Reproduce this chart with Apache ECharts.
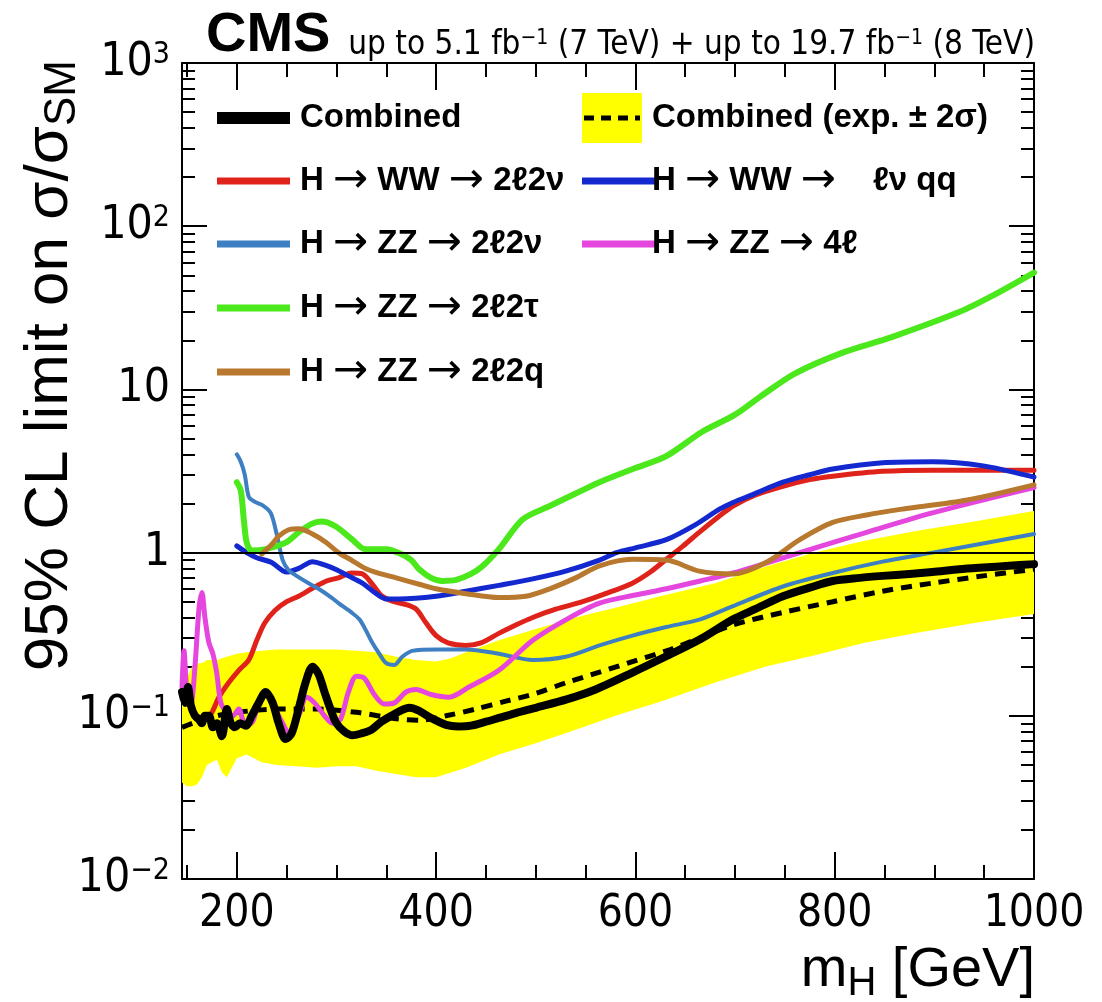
<!DOCTYPE html>
<html>
<head>
<meta charset="utf-8">
<script src="https://cdn.jsdelivr.net/npm/echarts@6/dist/echarts.min.js"></script>
<style>
html, body { margin: 0; padding: 0; background: #fff; }
#chart { width: 1102px; height: 1002px; }
</style>
</head>
<body>
<div id="chart"></div>
<script>
// Combined observed limit
const massObs = [145,148,151,154,158,162,165,168,172,176,180,185,190,194,198,203,209,215,222,229,236,242,249,255,262,269,276,282,288,294,300,308,316,325,335,345,355,365,373,382,395,410,422,435,450,463,480,500,531,560,597,630,665,698,720,748,775,798,825,848,875,898,925,949,975,1000];
const limitObs = [0.14,0.12,0.15,0.115,0.1,0.095,0.09,0.1,0.1,0.085,0.09,0.075,0.11,0.09,0.085,0.09,0.087,0.1,0.12,0.14,0.12,0.09,0.072,0.078,0.11,0.16,0.2,0.18,0.14,0.11,0.09,0.08,0.076,0.078,0.082,0.092,0.1,0.108,0.112,0.108,0.097,0.088,0.086,0.087,0.092,0.097,0.104,0.112,0.126,0.145,0.184,0.23,0.294,0.39,0.45,0.54,0.61,0.67,0.7,0.72,0.74,0.76,0.79,0.81,0.83,0.85];

// Combined expected limit (median)
const massExp = [145,160,180,200,240,280,320,360,385,410,440,470,500,531,564,597,631,665,698,748,798,848,898,949,1000];
const limitExp = [0.085,0.092,0.1,0.105,0.11,0.11,0.105,0.096,0.094,0.1,0.11,0.123,0.137,0.16,0.185,0.215,0.25,0.3,0.36,0.43,0.5,0.58,0.65,0.72,0.79];

// Expected +-2 sigma band
const massBand = [145,150,155,160,165,170,175,180,185,190,195,200,210,225,240,260,280,300,320,340,360,380,400,415,430,463,500,540,580,630,680,730,780,830,880,940,1000];
const bandHigh = [0.16,0.17,0.2,0.21,0.21,0.22,0.22,0.22,0.225,0.23,0.235,0.24,0.245,0.25,0.255,0.255,0.255,0.255,0.25,0.245,0.23,0.22,0.215,0.225,0.245,0.29,0.34,0.4,0.46,0.55,0.65,0.82,1.0,1.18,1.35,1.55,1.8];
const bandLow = [0.039,0.037,0.037,0.038,0.042,0.05,0.052,0.054,0.045,0.042,0.048,0.055,0.058,0.052,0.05,0.049,0.048,0.049,0.049,0.046,0.044,0.042,0.042,0.045,0.048,0.058,0.068,0.082,0.1,0.125,0.16,0.2,0.235,0.28,0.32,0.37,0.42];

// H -> WW -> 2l2nu
const massWW2l2v = [168,175,182,192,202,212,220,228,238,250,262,275,290,302,315,326,336,346,358,370,380,390,400,412,430,445,463,480,497,520,547,570,597,615,631,648,664,684,698,720,748,775,798,848,898,950,1000];
const limitWW2l2v = [0.095,0.105,0.13,0.16,0.19,0.22,0.29,0.37,0.44,0.5,0.54,0.6,0.67,0.7,0.75,0.74,0.64,0.54,0.5,0.48,0.45,0.37,0.31,0.28,0.27,0.28,0.32,0.36,0.4,0.45,0.5,0.56,0.65,0.76,0.91,1.1,1.33,1.67,1.93,2.25,2.55,2.8,2.94,3.15,3.2,3.2,3.2];

// H -> WW -> l nu qq
const massWWlvqq = [200,210,220,235,250,262,276,288,299,312,326,340,350,363,400,430,463,497,530,564,581,600,631,660,684,698,720,748,775,798,848,898,949,1000];
const limitWWlvqq = [1.1,1.0,0.93,0.87,0.76,0.8,0.88,0.84,0.79,0.72,0.65,0.56,0.52,0.52,0.54,0.58,0.63,0.69,0.77,0.9,1.0,1.07,1.2,1.48,1.84,2.03,2.3,2.7,3.0,3.25,3.55,3.6,3.4,2.9];

// H -> ZZ -> 2l2nu
const massZZ2l2v = [200,204,208,212,218,226,234,240,246,252,260,270,282,295,302,315,323,330,336,343,350,358,366,376,400,430,463,497,530,564,597,631,665,698,748,798,848,898,950,1000];
const limitZZ2l2v = [4.0,3.6,3.0,2.2,2.05,1.95,1.75,1.3,0.9,0.78,0.72,0.66,0.6,0.53,0.49,0.43,0.39,0.33,0.28,0.24,0.21,0.205,0.23,0.25,0.255,0.255,0.24,0.22,0.23,0.27,0.31,0.35,0.39,0.47,0.62,0.75,0.88,1.0,1.14,1.3];

// H -> ZZ -> 4l
const massZZ4l = [145,147,150,154,158,162,165,168,172,176,180,184,190,196,202,208,214,222,229,236,244,252,262,270,278,288,296,304,312,320,328,338,348,358,370,380,395,413,433,463,497,531,564,600,631,665,698,765,832,898,1000];
const limitZZ4l = [0.15,0.25,0.14,0.12,0.2,0.45,0.57,0.4,0.28,0.24,0.18,0.12,0.105,0.1,0.11,0.09,0.09,0.12,0.14,0.12,0.095,0.08,0.1,0.13,0.12,0.1,0.09,0.095,0.14,0.175,0.17,0.135,0.118,0.12,0.14,0.145,0.135,0.13,0.15,0.19,0.29,0.39,0.49,0.55,0.6,0.67,0.75,1.0,1.33,1.75,2.5];

// H -> ZZ -> 2l2tau
const massZZ2l2t = [200,204,207,210,215,229,249,262,275,285,299,316,329,350,365,375,383,395,406,420,435,447,463,487,514,540,564,600,631,667,700,725,760,808,858,926,960,1000];
const limitZZ2l2t = [2.7,2.4,1.6,1.15,1.03,1.05,1.15,1.33,1.5,1.55,1.45,1.2,1.05,1.05,0.98,0.9,0.79,0.7,0.67,0.68,0.74,0.83,1.05,1.6,1.93,2.3,2.7,3.3,3.9,5.5,7.0,9.0,12.5,16.8,21,30,38,52];

// H -> ZZ -> 2l2q
const massZZ2l2q = [225,235,242,252,262,276,290,302,315,329,345,360,383,400,430,463,490,514,540,564,597,631,664,698,731,765,798,832,866,933,1000];
const limitZZ2l2q = [0.98,1.12,1.26,1.38,1.4,1.3,1.15,1.0,0.9,0.8,0.74,0.7,0.64,0.6,0.56,0.53,0.54,0.6,0.7,0.83,0.91,0.9,0.77,0.74,0.87,1.2,1.53,1.7,1.84,2.1,2.6];

// Axis tick values
const xMajorTicks = [200, 400, 600, 800, 1000];
const xMinorTicks = [150, 250, 300, 350, 450, 500, 550, 650, 700, 750, 850, 900, 950];
const yMajorTicks = [0.01, 0.1, 1, 10, 100, 1000];
const yMinorTicks = [];
for (let d = -2; d <= 2; d++) {
  for (let k = 2; k <= 9; k++) yMinorTicks.push(Number((k * Math.pow(10, d)).toPrecision(3)));
}

const FONT = "'Liberation Sans', Arial, Helvetica, sans-serif";
const NARROW = "'Liberation Sans Narrow', 'Arial Narrow', 'DejaVu Sans Condensed', 'Liberation Sans', sans-serif";
const ARROW_FONT = "'DejaVu Sans', sans-serif";
const pairs = (xs, ys) => xs.map((x, i) => [x, ys[i]]);

const C = {
  ww2l2v: '#e0231a',
  wwlvqq: '#1428cf',
  zz2l2v: '#3d7fc2',
  zz4l: '#e446de',
  zz2l2t: '#4be81b',
  zz2l2q: '#b8792f',
  band: '#ffff00'
};

const chart = echarts.init(document.getElementById('chart'), null, { renderer: 'canvas' });

const frameLine = { show: true, lineStyle: { color: '#000', width: 2 } };
const tickStyle = { color: '#000', width: 2 };

function xAxisDef(position, ticks, len, withLine, withLabels) {
  return {
    type: 'value', min: 145, max: 1000, position: position,
    splitLine: { show: false },
    axisLine: withLine ? frameLine : { show: false },
    axisTick: { show: true, inside: true, length: len, customValues: ticks, lineStyle: tickStyle },
    axisLabel: withLabels ? {
      show: true, customValues: xMajorTicks, margin: 14,
      color: '#000', fontFamily: NARROW, fontSize: 44,
      formatter: function (v) { return String(Math.round(v)); }
    } : { show: false }
  };
}

function yAxisDef(position, ticks, len, withLine, withLabels) {
  return {
    type: 'log', logBase: 10, min: 0.01, max: 1000, position: position,
    splitLine: { show: false },
    axisLine: withLine ? frameLine : { show: false },
    axisTick: { show: true, inside: true, length: len, customValues: ticks, lineStyle: tickStyle },
    axisLabel: withLabels ? {
      show: true, customValues: yMajorTicks, margin: 12,
      color: '#000', fontFamily: NARROW, fontSize: 46,
      formatter: function (v) {
        const e = Math.round(Math.log10(v));
        if (e === 0) return '1';
        if (e === 1) return '10';
        return '10{sup|' + (e < 0 ? '\u2212' + (-e) : e) + '}';
      },
      rich: {
        sup: { fontFamily: NARROW, fontSize: 30, color: '#000', verticalAlign: 'top', padding: [0, 0, 14, 0] }
      }
    } : { show: false }
  };
}

function lineSeries(name, xs, ys, color, width, z, extra) {
  return Object.assign({
    name: name, type: 'line', data: pairs(xs, ys),
    xAxisIndex: 0, yAxisIndex: 0,
    symbol: 'none', smooth: 0.3, z: z, silent: true,
    lineStyle: { color: color, width: width, cap: 'round', join: 'round' }
  }, extra || {});
}

// legend drawn as line samples plus bold labels ({a|...} marks the wide arrows)
const legendRows = [
  { col: 0, row: 0, text: 'Combined', color: '#000', width: 12 },
  { col: 1, row: 0, text: 'Combined (exp. \u00b1 2\u03c3)', band: true },
  { col: 0, row: 1, text: 'H {a|\u2192} WW {a|\u2192} 2\u21132\u03bd', color: C.ww2l2v, width: 7 },
  { col: 1, row: 1, text: 'H {a|\u2192} WW {a|\u2192}    \u2113\u03bd qq', color: C.wwlvqq, width: 7 },
  { col: 0, row: 2, text: 'H {a|\u2192} ZZ {a|\u2192} 2\u21132\u03bd', color: C.zz2l2v, width: 7 },
  { col: 1, row: 2, text: 'H {a|\u2192} ZZ {a|\u2192} 4\u2113', color: C.zz4l, width: 7 },
  { col: 0, row: 3, text: 'H {a|\u2192} ZZ {a|\u2192} 2\u21132\u03c4', color: C.zz2l2t, width: 7 },
  { col: 0, row: 4, text: 'H {a|\u2192} ZZ {a|\u2192} 2\u21132q', color: C.zz2l2q, width: 7 }
];
const legendColX = [217, 582];
const legendRowY = [118, 181, 244, 308, 372];
const legendGraphics = [];
legendRows.forEach(function (r) {
  const x0 = legendColX[r.col], y = legendRowY[r.row];
  if (r.band) {
    legendGraphics.push({ type: 'rect', z: 100, shape: { x: x0, y: y - 25, width: 60, height: 50 }, style: { fill: C.band } });
    legendGraphics.push({ type: 'line', z: 101, shape: { x1: x0 + 2, y1: y, x2: x0 + 58, y2: y }, style: { stroke: '#000', lineWidth: 5, lineDash: [10, 7] } });
  } else {
    legendGraphics.push({ type: 'line', z: 100, shape: { x1: x0, y1: y, x2: x0 + 73, y2: y }, style: { stroke: r.color, lineWidth: r.width } });
  }
  legendGraphics.push({
    type: 'text', z: 100, x: x0 + (r.col === 0 ? 83 : 70), y: y,
    style: {
      text: r.text, fill: '#000', font: 'bold 33px ' + FONT, align: 'left', verticalAlign: 'middle',
      rich: { a: { font: '42px ' + ARROW_FONT, fill: '#000' } }
    }
  });
});

// expected +-2 sigma band as one filled polygon (upper edge forward, lower edge back)
const bandSeries = {
  name: 'Combined (exp. \u00b12\u03c3)', type: 'custom', xAxisIndex: 0, yAxisIndex: 0,
  z: 1, silent: true, clip: true,
  data: massBand.map((m, i) => [m, bandLow[i], bandHigh[i]]),
  encode: { x: 0, y: [1, 2] },
  renderItem: function (params, api) {
    if (params.dataIndex !== 0) return null;
    const pts = [];
    for (let i = 0; i < massBand.length; i++) pts.push(api.coord([massBand[i], bandHigh[i]]));
    for (let i = massBand.length - 1; i >= 0; i--) pts.push(api.coord([massBand[i], bandLow[i]]));
    return { type: 'polygon', shape: { points: pts }, style: { fill: C.band, stroke: null } };
  }
};

const option = {
  animation: false,
  backgroundColor: '#fff',
  grid: { left: 182, right: 68, top: 63, bottom: 123, containLabel: false },
  xAxis: [
    xAxisDef('bottom', xMajorTicks, 27, true, true),
    xAxisDef('bottom', xMinorTicks, 14, false, false),
    xAxisDef('top', xMajorTicks, 27, true, false),
    xAxisDef('top', xMinorTicks, 14, false, false)
  ],
  yAxis: [
    yAxisDef('left', yMajorTicks, 25, true, true),
    yAxisDef('left', yMinorTicks, 13, false, false),
    yAxisDef('right', yMajorTicks, 25, true, false),
    yAxisDef('right', yMinorTicks, 13, false, false)
  ],
  series: [
    bandSeries,
    lineSeries('Combined expected', massExp, limitExp, '#000', 5, 3, {
      lineStyle: { color: '#000', width: 5, type: [11, 8] },
      markLine: {
        silent: true, symbol: 'none', label: { show: false },
        lineStyle: { color: '#000', width: 2, type: 'solid' },
        data: [{ yAxis: 1 }]
      }
    }),
    lineSeries('H\u2192WW\u21922\u21132\u03bd', massWW2l2v, limitWW2l2v, C.ww2l2v, 5, 4),
    lineSeries('H\u2192WW\u2192\u2113\u03bdqq', massWWlvqq, limitWWlvqq, C.wwlvqq, 5, 4),
    lineSeries('H\u2192ZZ\u21922\u21132\u03bd', massZZ2l2v, limitZZ2l2v, C.zz2l2v, 4, 4),
    lineSeries('H\u2192ZZ\u21924\u2113', massZZ4l, limitZZ4l, C.zz4l, 5, 4),
    lineSeries('H\u2192ZZ\u21922\u21132\u03c4', massZZ2l2t, limitZZ2l2t, C.zz2l2t, 6, 4),
    lineSeries('H\u2192ZZ\u21922\u21132q', massZZ2l2q, limitZZ2l2q, C.zz2l2q, 5, 4),
    lineSeries('Combined', massObs, limitObs, '#000', 8, 6)
  ],
  graphic: [
    {
      type: 'text', x: 206, y: 36, z: 100,
      style: { text: 'CMS', font: 'bold 56px ' + FONT, fill: '#000', align: 'left', verticalAlign: 'middle' }
    },
    {
      type: 'text', x: 1035, y: 45, z: 100,
      style: {
        text: 'up to 5.1 fb{sup|\u22121} (7 TeV) + up to 19.7 fb{sup|\u22121} (8 TeV)',
        font: '33px ' + NARROW, fill: '#000', align: 'right', verticalAlign: 'middle',
        rich: { sup: { font: '21px ' + NARROW, fill: '#000', verticalAlign: 'top', padding: [0, 0, 12, 0] } }
      }
    },
    {
      type: 'text', x: 50, y: 60, rotation: Math.PI / 2, z: 100,
      style: {
        text: '95% CL limit on \u03c3/\u03c3{sub|SM}',
        font: '62px ' + FONT, fill: '#000', align: 'right', verticalAlign: 'middle',
        rich: { sub: { font: '44px ' + FONT, fill: '#000', verticalAlign: 'bottom', padding: [26, 0, 0, 0] } }
      }
    },
    {
      type: 'text', x: 1035, y: 971, z: 100,
      style: {
        text: 'm{sub|H} [GeV]',
        font: '56px ' + FONT, fill: '#000', align: 'right', verticalAlign: 'middle',
        rich: { sub: { font: '40px ' + FONT, fill: '#000', verticalAlign: 'bottom', padding: [26, 0, 0, 0] } }
      }
    }
  ].concat(legendGraphics)
};

chart.setOption(option);
</script>
</body>
</html>
